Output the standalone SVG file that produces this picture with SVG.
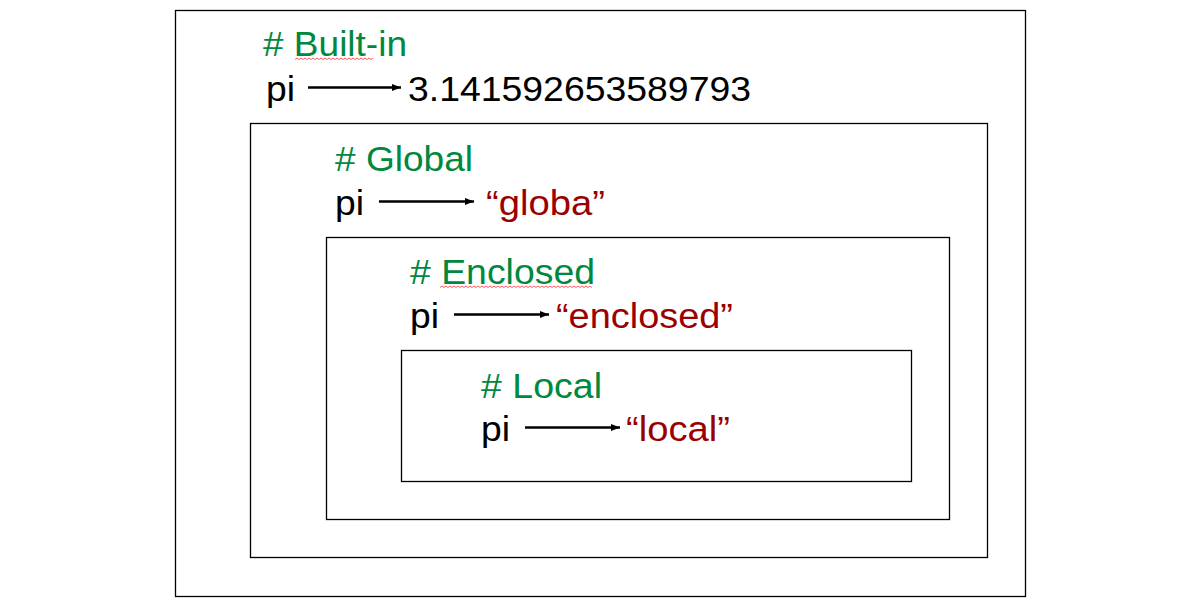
<svg xmlns="http://www.w3.org/2000/svg" width="1204" height="605" viewBox="0 0 1204 605">
<style>
.box{fill:none;stroke:#000;stroke-width:1.3}
.t{font-family:"Liberation Sans",Arial,sans-serif;font-size:35.5px}
.h{fill:#00883E}
.k{fill:#000}
.v{fill:#9A0000}
.arr{stroke:#000;stroke-width:2.4;fill:none;marker-end:url(#ah)}
.sq{fill:none;stroke:#FF3030;stroke-width:0.8}
</style>
<defs>
<marker id="ah" markerWidth="10" markerHeight="8" refX="9" refY="4" orient="auto" markerUnits="userSpaceOnUse">
<path d="M0,0.5 L9,4 L0,7.5 Z" fill="#000"/>
</marker>
</defs>
<rect width="1204" height="605" fill="#fff"/>
<g id="builtin">
<rect class="box" x="175.5" y="10.5" width="850" height="586"/>
<text class="t h" x="263" y="56" textLength="144" lengthAdjust="spacingAndGlyphs"># Built-in</text>
<path class="sq" d="M295,59.5 l2,-1.5 l2,1.5 l2,-1.5 l2,1.5 l2,-1.5 l2,1.5 l2,-1.5 l2,1.5 l2,-1.5 l2,1.5 l2,-1.5 l2,1.5 l2,-1.5 l2,1.5 l2,-1.5 l2,1.5 l2,-1.5 l2,1.5 l2,-1.5 l2,1.5 l2,-1.5 l2,1.5 l2,-1.5 l2,1.5 l2,-1.5 l2,1.5 l2,-1.5 l2,1.5 l2,-1.5 l2,1.5 l2,-1.5 l2,1.5 l2,-1.5 l2,1.5 l2,-1.5 l2,1.5 l2,-1.5 l2,1.5 l2,-1.5"/>
<text class="t k" x="266" y="101" textLength="29" lengthAdjust="spacingAndGlyphs">pi</text>
<text class="t k" x="408" y="101" textLength="343" lengthAdjust="spacingAndGlyphs">3.141592653589793</text>
</g>
<g id="global">
<rect class="box" x="250.5" y="123.5" width="737" height="434"/>
<text class="t h" x="335" y="171" textLength="138" lengthAdjust="spacingAndGlyphs"># Global</text>
<text class="t k" x="335" y="215" textLength="29" lengthAdjust="spacingAndGlyphs">pi</text>
<text class="t v" x="486" y="215" textLength="119" lengthAdjust="spacingAndGlyphs">“globa”</text>
</g>
<g id="enclosed">
<rect class="box" x="326.5" y="237.5" width="623" height="282"/>
<text class="t h" x="410" y="284" textLength="185" lengthAdjust="spacingAndGlyphs"># Enclosed</text>
<path class="sq" d="M440,287.5 l2,-1.5 l2,1.5 l2,-1.5 l2,1.5 l2,-1.5 l2,1.5 l2,-1.5 l2,1.5 l2,-1.5 l2,1.5 l2,-1.5 l2,1.5 l2,-1.5 l2,1.5 l2,-1.5 l2,1.5 l2,-1.5 l2,1.5 l2,-1.5 l2,1.5 l2,-1.5 l2,1.5 l2,-1.5 l2,1.5 l2,-1.5 l2,1.5 l2,-1.5 l2,1.5 l2,-1.5 l2,1.5 l2,-1.5 l2,1.5 l2,-1.5 l2,1.5 l2,-1.5 l2,1.5 l2,-1.5 l2,1.5 l2,-1.5 l2,1.5 l2,-1.5 l2,1.5 l2,-1.5 l2,1.5 l2,-1.5 l2,1.5 l2,-1.5 l2,1.5 l2,-1.5 l2,1.5 l2,-1.5 l2,1.5 l2,-1.5 l2,1.5 l2,-1.5 l2,1.5 l2,-1.5 l2,1.5 l2,-1.5 l2,1.5 l2,-1.5 l2,1.5 l2,-1.5 l2,1.5 l2,-1.5 l2,1.5 l2,-1.5 l2,1.5 l2,-1.5 l2,1.5 l2,-1.5 l2,1.5 l2,-1.5 l2,1.5 l2,-1.5 l2,1.5"/>
<text class="t k" x="410" y="328" textLength="29" lengthAdjust="spacingAndGlyphs">pi</text>
<text class="t v" x="556" y="328" textLength="177" lengthAdjust="spacingAndGlyphs">“enclosed”</text>
</g>
<g id="local">
<rect class="box" x="401.5" y="350.5" width="510" height="131"/>
<text class="t h" x="481" y="398" textLength="121" lengthAdjust="spacingAndGlyphs"># Local</text>
<text class="t k" x="481" y="441" textLength="29" lengthAdjust="spacingAndGlyphs">pi</text>
<text class="t v" x="626" y="441" textLength="104" lengthAdjust="spacingAndGlyphs">“local”</text>
</g>
<g id="connectors">
<line class="arr" x1="308" y1="87.5" x2="401" y2="87.5"/>
<line class="arr" x1="379" y1="201.5" x2="474" y2="201.5"/>
<line class="arr" x1="454" y1="314.5" x2="549" y2="314.5"/>
<line class="arr" x1="525" y1="427.5" x2="620" y2="427.5"/>
</g>
</svg>
